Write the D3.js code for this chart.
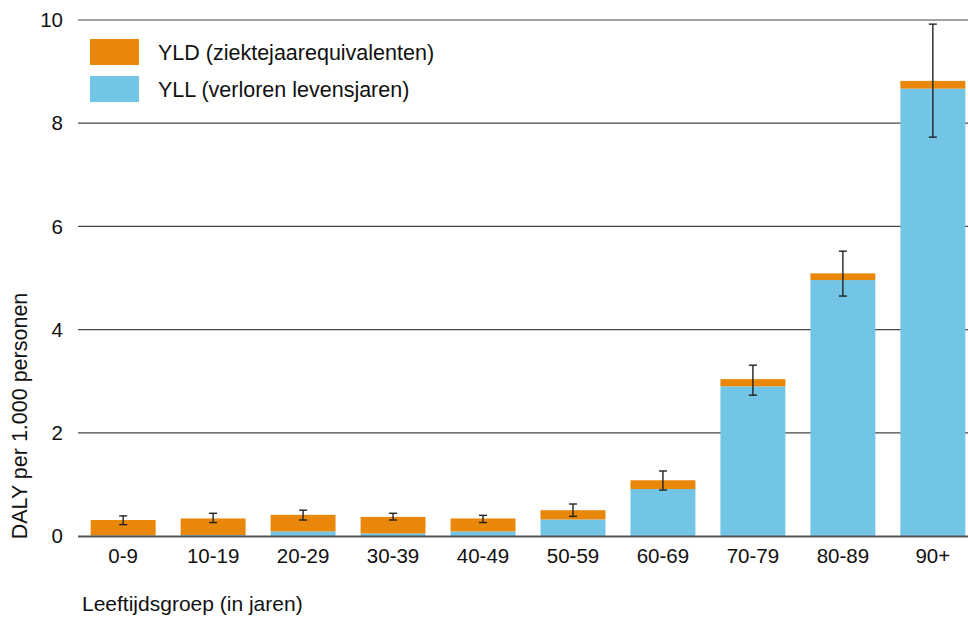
<!DOCTYPE html>
<html>
<head>
<meta charset="utf-8">
<script src="https://cdn.jsdelivr.net/npm/d3@7"></script>
<style>
  body { margin: 0; background: #fff; }
  svg { display: block; font-family: "Liberation Sans", Arial, sans-serif; }
</style>
</head>
<body>
<svg id="chart" width="968" height="617"></svg>
<script>
// age groups and values (DALY per 1.000 persons)
const groups = ["0-9", "10-19", "20-29", "30-39", "40-49", "50-59", "60-69", "70-79", "80-89", "90+"];
const yll = [0.01, 0.02, 0.09, 0.05, 0.09, 0.32, 0.91, 2.90, 4.96, 8.67];
const yld = [0.30, 0.32, 0.32, 0.32, 0.25, 0.18, 0.17, 0.14, 0.13, 0.15];
const errLow = [0.22, 0.26, 0.31, 0.31, 0.26, 0.38, 0.89, 2.73, 4.65, 7.73];
const errHigh = [0.39, 0.44, 0.50, 0.44, 0.40, 0.62, 1.26, 3.31, 5.52, 9.92];
const yTicks = [0, 2, 4, 6, 8, 10];

const colYLD = "#e8870a";
const colYLL = "#72c5e5";

const width = 968, height = 617;
const svg = d3.select("#chart");

const x = d3.scaleBand()
    .domain(groups)
    .range([78, 978])
    .paddingInner(0.278)
    .paddingOuter(0.141);

const y = d3.scaleLinear()
    .domain([0, 10])
    .range([536, 20]);

// gridlines
svg.append("g")
    .selectAll("line")
    .data(yTicks.filter(d => d > 0))
    .join("line")
    .attr("x1", 78)
    .attr("x2", width)
    .attr("y1", d => y(d))
    .attr("y2", d => y(d))
    .attr("stroke", "#444")
    .attr("stroke-width", 1.2);

// y tick labels
svg.append("g")
    .selectAll("text")
    .data(yTicks)
    .join("text")
    .attr("x", 63)
    .attr("y", d => y(d))
    .attr("dy", "0.35em")
    .attr("text-anchor", "end")
    .attr("font-size", 20.5)
    .attr("fill", "#111")
    .text(d => d);

const rows = groups.map((g, i) => ({
    g, yll: yll[i], yld: yld[i], lo: errLow[i], hi: errHigh[i]
}));

// YLL bars
svg.append("g")
    .selectAll("rect")
    .data(rows)
    .join("rect")
    .attr("x", d => x(d.g))
    .attr("width", x.bandwidth())
    .attr("y", d => y(d.yll))
    .attr("height", d => y(0) - y(d.yll))
    .attr("fill", colYLL);

// YLD bars stacked on top
svg.append("g")
    .selectAll("rect")
    .data(rows)
    .join("rect")
    .attr("x", d => x(d.g))
    .attr("width", x.bandwidth())
    .attr("y", d => y(d.yll + d.yld))
    .attr("height", d => y(d.yll) - y(d.yll + d.yld))
    .attr("fill", colYLD);

// error bars
const err = svg.append("g")
    .attr("stroke", "#222")
    .attr("stroke-width", 1.4)
    .selectAll("g")
    .data(rows)
    .join("g")
    .attr("transform", d => `translate(${x(d.g) + x.bandwidth() / 2},0)`);

err.append("line")
    .attr("y1", d => y(d.lo))
    .attr("y2", d => y(d.hi));
err.append("line")
    .attr("x1", -4).attr("x2", 4)
    .attr("y1", d => y(d.hi)).attr("y2", d => y(d.hi));
err.append("line")
    .attr("x1", -4).attr("x2", 4)
    .attr("y1", d => y(d.lo)).attr("y2", d => y(d.lo));

// x axis line
svg.append("line")
    .attr("x1", 78)
    .attr("x2", width)
    .attr("y1", y(0) + 0.5)
    .attr("y2", y(0) + 0.5)
    .attr("stroke", "#555")
    .attr("stroke-width", 2);

// x tick labels
svg.append("g")
    .selectAll("text")
    .data(groups)
    .join("text")
    .attr("x", d => x(d) + x.bandwidth() / 2)
    .attr("y", 563)
    .attr("text-anchor", "middle")
    .attr("font-size", 20.5)
    .attr("fill", "#111")
    .text(d => d);

// axis titles
svg.append("text")
    .attr("x", 82)
    .attr("y", 611)
    .attr("font-size", 21)
    .attr("fill", "#111")
    .text("Leeftijdsgroep (in jaren)");

svg.append("text")
    .attr("transform", "translate(27,416) rotate(-90)")
    .attr("text-anchor", "middle")
    .attr("font-size", 21.5)
    .attr("fill", "#111")
    .text("DALY per 1.000 personen");

// legend
const legend = [
    { label: "YLD (ziektejaarequivalenten)", color: colYLD },
    { label: "YLL (verloren levensjaren)", color: colYLL }
];
const lg = svg.append("g")
    .selectAll("g")
    .data(legend)
    .join("g")
    .attr("transform", (d, i) => `translate(90,${39 + i * 37})`);
lg.append("rect")
    .attr("width", 49)
    .attr("height", 26)
    .attr("fill", d => d.color);
lg.append("text")
    .attr("x", 68)
    .attr("y", 13)
    .attr("dy", "0.35em")
    .attr("font-size", 21.5)
    .attr("fill", "#111")
    .text(d => d.label);
</script>
</body>
</html>
